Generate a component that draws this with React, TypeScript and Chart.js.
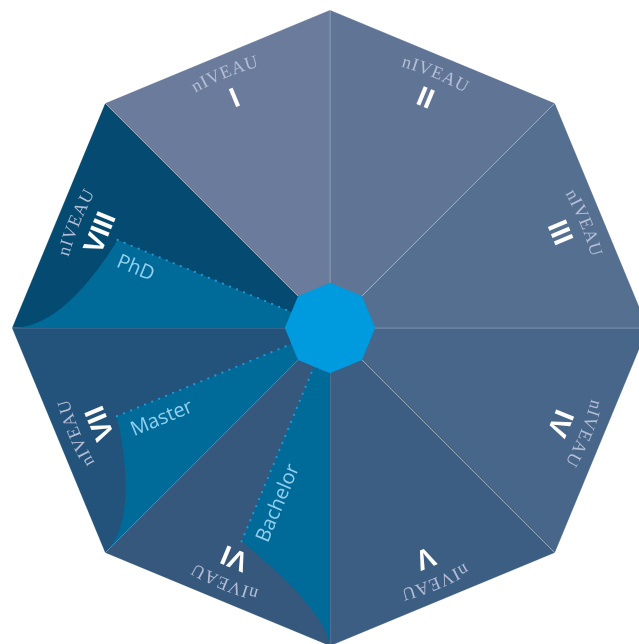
import React, { useEffect, useRef } from 'react';
import { Chart, registerables } from 'chart.js';

Chart.register(...registerables);

// Eight levels of the octagon (I at top-left, going clockwise)
const levels = ['I', 'II', 'III', 'IV', 'V', 'VI', 'VII', 'VIII'];
const levelWord = 'nIVEAU';
const levelReach = [100, 100, 100, 100, 100, 100, 100, 100];
const levelColors = ['#6a7b9b', '#607596', '#556f90', '#476689', '#3d5e83', '#36587d', '#23527a', '#054a70'];

// Inner hub
const hubValue = [14.2, 14.2, 14.2, 14.2, 14.2, 14.2, 14.2, 14.2];

// Degrees highlighted inside levels VI, VII, VIII
const degrees = ['Bachelor', 'Master', 'PhD'];
const degreeLevel = [6, 7, 8];
const degreeReach = [72.6, 72.5, 72.3];
const degreeCurveValue = [89, 85, 84];
const degreeCurveShift = [0.02, 0.0, 0.0];

const vertexCount = levels.length;

function levelData(k: number): number[] {
  const a = (k + vertexCount - 1) % vertexCount;
  const b = k % vertexCount;
  return levels.map((_, i) => (i === a || i === b ? levelReach[k] : 0));
}

const octagonPlugin = {
  id: 'octagonDecor',
  afterDatasetDraw(chart: any, args: any) {
    if (args.index !== 1) return;
    const r = chart.scales.r;
    const ctx: CanvasRenderingContext2D = chart.ctx;
    const cx = r.xCenter;
    const cy = r.yCenter;
    const pos = (idx: number, v: number) => r.getPointPosition(idx, r.getDistanceFromCenterForValue(v));
    degrees.forEach((name, i) => {
      const a = degreeLevel[i] - 2;
      const V = pos(a, 100);
      const E = pos(a + 0.5, degreeReach[i]);
      const Q = pos(a + degreeCurveShift[i], degreeCurveValue[i]);
      ctx.save();
      ctx.beginPath();
      ctx.moveTo(cx, cy);
      ctx.lineTo(E.x, E.y);
      ctx.quadraticCurveTo(Q.x, Q.y, V.x, V.y);
      ctx.closePath();
      ctx.fillStyle = '#006a99';
      ctx.fill();
      // dotted edge
      ctx.beginPath();
      ctx.moveTo(E.x, E.y);
      ctx.lineTo(cx, cy);
      ctx.setLineDash([0, 7.6]);
      ctx.lineCap = 'round';
      ctx.lineWidth = 2.3;
      ctx.strokeStyle = '#1d9ad8';
      ctx.stroke();
      ctx.setLineDash([]);
      // label
      const ang = Math.atan2(cy - E.y, cx - E.x);
      ctx.translate(E.x, E.y);
      ctx.rotate(ang);
      ctx.font = '20px "Open Sans"';
      ctx.fillStyle = '#93cfee';
      ctx.textAlign = 'left';
      ctx.textBaseline = 'alphabetic';
      ctx.fillText(name, 8, 25);
      ctx.restore();
    });
  },
  afterDatasetsDraw(chart: any) {
    const r = chart.scales.r;
    const ctx: CanvasRenderingContext2D = chart.ctx;
    const cx = r.xCenter;
    const cy = r.yCenter;
    const unit = r.drawingArea / 100;
    levels.forEach((num, k) => {
      const idx = (k + vertexCount - 0.5) % vertexCount;
      const angle = r.getIndexAngle(idx);
      // curved word
      ctx.save();
      ctx.font = '18px "Liberation Serif"';
      ctx.fillStyle = '#b5bed6';
      ctx.textAlign = 'center';
      ctx.textBaseline = 'alphabetic';
      const chars = [...levelWord];
      const spacing = 0.8;
      const radius = 85.2 * unit;
      const widths = chars.map((c) => ctx.measureText(c).width);
      const total = widths.reduce((s, w) => s + w, 0) + spacing * (chars.length - 1);
      let p = -total / 2;
      chars.forEach((c, j) => {
        const mid = p + widths[j] / 2;
        ctx.save();
        ctx.translate(cx, cy);
        ctx.rotate(angle + mid / radius);
        ctx.fillText(c, 0, -radius);
        ctx.restore();
        p += widths[j] + spacing;
      });
      ctx.restore();
      // numeral
      ctx.save();
      ctx.translate(cx, cy);
      ctx.rotate(angle);
      ctx.font = 'bold 28px "Liberation Sans"';
      ctx.fillStyle = '#ffffff';
      ctx.textAlign = 'center';
      ctx.textBaseline = 'alphabetic';
      ctx.fillText(num, 0, -75.5 * unit);
      ctx.restore();
    });
  },
};

export default function App() {
  const ref = useRef<HTMLCanvasElement | null>(null);
  useEffect(() => {
    if (!ref.current) return;
    const datasets: any[] = [
      {
        data: hubValue,
        backgroundColor: '#009ade',
        borderWidth: 0,
        fill: true,
        pointRadius: 0,
      },
      ...levels.map((_, k) => ({
        data: levelData(k),
        backgroundColor: levelColors[k],
        borderColor: 'rgba(255,255,255,0.2)',
        borderWidth: 1,
        fill: true,
        pointRadius: 0,
      })),
    ];
    const chart = new Chart(ref.current, {
      type: 'radar',
      data: { labels: levels, datasets },
      options: {
        responsive: false,
        animation: false,
        events: [],
        plugins: { legend: { display: false }, tooltip: { enabled: false } },
        elements: { line: { tension: 0 }, point: { radius: 0 } },
        scales: {
          r: {
            min: 0,
            max: 100,
            ticks: { display: false },
            grid: { display: false },
            angleLines: { display: false },
            pointLabels: { display: false },
          },
        },
      } as any,
      plugins: [octagonPlugin as any],
    });
    return () => chart.destroy();
  }, []);
  return (
    <div style={{ position: 'fixed', left: 0, top: 0, width: 639, height: 644, overflow: 'hidden', background: '#ffffff' }}>
      <canvas ref={ref} width={636} height={636} style={{ position: 'absolute', left: 12, top: 10, width: 636, height: 636 }} />
    </div>
  );
}
